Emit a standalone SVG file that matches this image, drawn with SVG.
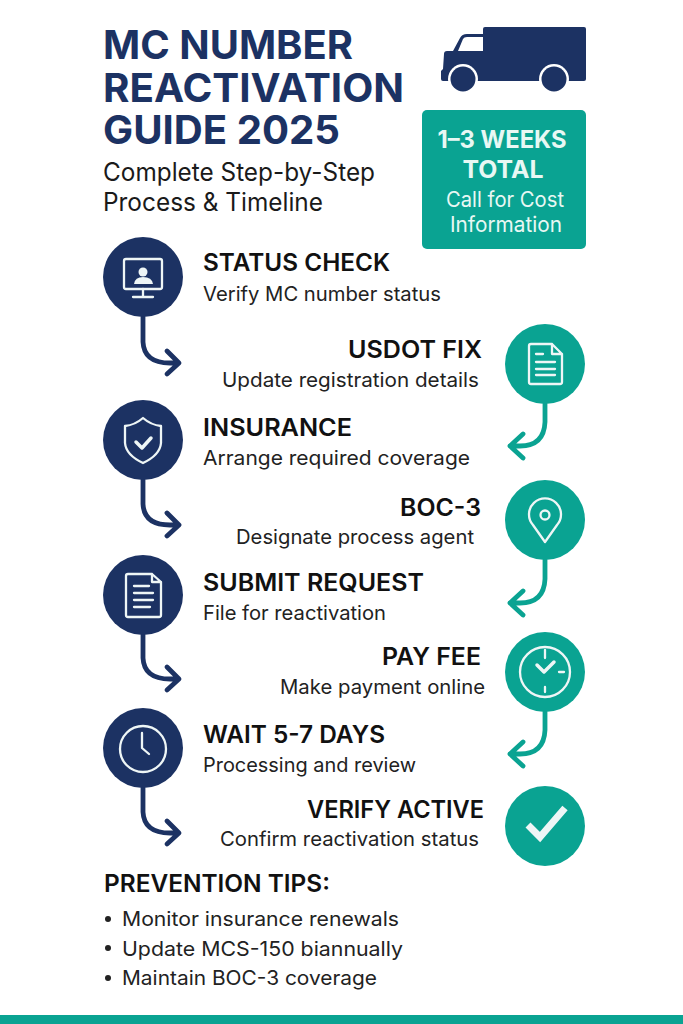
<svg xmlns="http://www.w3.org/2000/svg" width="683" height="1024" viewBox="0 0 683 1024">
<style>
text{font-family:"Inter","Liberation Sans",sans-serif}
.t{font-size:40px;font-weight:700;fill:#1c3263}
.s{font-size:25px;fill:#1a1a1a}
.h{font-size:24px;font-weight:600;fill:#111}
.d{font-size:20px;fill:#222}
.e{text-anchor:end}
.m{text-anchor:middle;fill:#e8f8f4}
.n{fill:#1c3263}.g{fill:#0aa392}
.i{fill:none;stroke:#eef6f6;stroke-width:2.300;stroke-linecap:round;stroke-linejoin:round}
.k{stroke-width:3.500}
.cn{fill:none;stroke:#1c3263;stroke-width:4.800;stroke-linecap:round;stroke-linejoin:round}
.cg{fill:none;stroke:#0aa392;stroke-width:4.800;stroke-linecap:round;stroke-linejoin:round}
</style>
<rect width="683" height="1024" fill="#fff"/>
<g id="title">
<text class="t" x="103" y="59" textLength="250" lengthAdjust="spacingAndGlyphs">MC NUMBER</text>
<text class="t" x="103" y="102" textLength="301" lengthAdjust="spacingAndGlyphs">REACTIVATION</text>
<text class="t" x="103" y="144" textLength="237" lengthAdjust="spacingAndGlyphs">GUIDE 2025</text>
<text class="s" x="103" y="181" textLength="272" lengthAdjust="spacingAndGlyphs">Complete Step-by-Step</text>
<text class="s" x="103" y="211" textLength="220" lengthAdjust="spacingAndGlyphs">Process &amp; Timeline</text>
</g>
<g id="truck">
<path class="n" d="M483 29a2 2 0 0 1 2-2H584a2 2 0 0 1 2 2V79a2 2 0 0 1-2 2H483Z"/>
<path class="n" d="M483 34H467Q462 34 460 38L453 51H447Q444 51 444 54L443 69L441 71V79Q441 81 443 81H483Z"/>
<path fill="#fff" d="M458 51L463 39Q464 37 467 37H483V51Z"/>
<circle cx="463" cy="79" r="15" fill="#fff"/><circle cx="554" cy="79" r="15" fill="#fff"/>
<circle class="n" cx="463" cy="79" r="12.500"/><circle class="n" cx="554" cy="79" r="12.500"/>
</g>
<g id="summary">
<rect class="g" x="422" y="110" width="164" height="139" rx="5"/>
<text class="m" x="502" y="148" font-size="24" font-weight="700" textLength="129" lengthAdjust="spacingAndGlyphs">1–3 WEEKS</text>
<text class="m" x="503" y="178" font-size="24" font-weight="700" textLength="81" lengthAdjust="spacingAndGlyphs">TOTAL</text>
<text class="m" x="505" y="207" font-size="21" textLength="118" lengthAdjust="spacingAndGlyphs">Call for Cost</text>
<text class="m" x="506" y="232" font-size="21" textLength="112" lengthAdjust="spacingAndGlyphs">Information</text>
</g>
<g id="connectors">
<path class="cn" d="M143 317V342Q144 363 170 363H178M167 351L179 363L167 374"/>
<path class="cn" d="M143 480V504Q144 525 170 525H178M167 513L179 525L167 536"/>
<path class="cn" d="M143 635V658Q144 679 170 679H178M167 667L179 679L167 690"/>
<path class="cn" d="M143 788V812Q144 833 170 833H178M167 821L179 833L167 844"/>
<path class="cg" d="M545 404V422Q544 446 520 446H510M523 434L510 446L523 458"/>
<path class="cg" d="M545 560V579Q544 603 520 603H510M523 591L510 603L523 615"/>
<path class="cg" d="M545 712V730Q544 754 520 754H510M523 742L510 754L523 766"/>
</g>
<g id="node-status-check">
<circle class="n" cx="143" cy="277" r="40"/>
<rect class="i" x="124" y="259" width="38" height="30" rx="2"/>
<circle cx="143" cy="272" r="4.500" fill="#eef6f6"/><path fill="#eef6f6" d="M134 284Q135 277 143 277Q152 277 153 284Z"/>
<path class="i" d="M143 289V296M133 297H153"/>
<text class="h" x="203" y="271" textLength="187" lengthAdjust="spacingAndGlyphs">STATUS CHECK</text>
<text class="d" x="203" y="301" textLength="238" lengthAdjust="spacingAndGlyphs">Verify MC number status</text>
</g>
<g id="node-usdot-fix">
<circle class="g" cx="545" cy="364" r="40"/>
<path class="i" d="M529 346a2 2 0 0 1 2-2H552L562 354V382a2 2 0 0 1-2 2H531a2 2 0 0 1-2-2ZM552 344V354H562"/>
<path class="i" d="M536 354H543M536 362H555M536 369H555M536 375H555"/>
<text class="h e" x="482" y="358" textLength="134" lengthAdjust="spacingAndGlyphs">USDOT FIX</text>
<text class="d e" x="479" y="387" textLength="257" lengthAdjust="spacingAndGlyphs">Update registration details</text>
</g>
<g id="node-insurance">
<circle class="n" cx="143" cy="440" r="40"/>
<path class="i" d="M143 418Q135 425 125 426V443Q126 455 143 463Q160 455 161 443V426Q151 425 143 418Z"/>
<path class="i k" d="M136 442L142 448L151 438"/>
<text class="h" x="203" y="436" textLength="149" lengthAdjust="spacingAndGlyphs">INSURANCE</text>
<text class="d" x="203" y="465" textLength="267" lengthAdjust="spacingAndGlyphs">Arrange required coverage</text>
</g>
<g id="node-boc-3">
<circle class="g" cx="545" cy="520" r="40"/>
<path class="i" d="M545 542L533 525A16 16 0 1 1 557 525Z"/>
<circle class="i" cx="545" cy="515" r="4.500"/>
<text class="h e" x="481" y="516" textLength="81" lengthAdjust="spacingAndGlyphs">BOC-3</text>
<text class="d e" x="474" y="544" textLength="238" lengthAdjust="spacingAndGlyphs">Designate process agent</text>
</g>
<g id="node-submit-request">
<circle class="n" cx="143" cy="595" r="40"/>
<path class="i" d="M126 576a2 2 0 0 1 2-2H152L161 582V615a2 2 0 0 1-2 2H128a2 2 0 0 1-2-2ZM152 574V582H161"/>
<path class="i" d="M134 586H149M134 593H153M134 600H153M134 607H150"/>
<text class="h" x="203" y="591" textLength="221" lengthAdjust="spacingAndGlyphs">SUBMIT REQUEST</text>
<text class="d" x="203" y="620" textLength="183" lengthAdjust="spacingAndGlyphs">File for reactivation</text>
</g>
<g id="node-pay-fee">
<circle class="g" cx="545" cy="672" r="40"/>
<circle class="i" cx="545" cy="672" r="25"/>
<path class="i" d="M545 650V658M545 687V692M559 672H564"/>
<path class="i k" d="M537 665L544 672L554 662"/>
<text class="h e" x="481" y="665" textLength="99" lengthAdjust="spacingAndGlyphs">PAY FEE</text>
<text class="d e" x="485" y="694" textLength="205" lengthAdjust="spacingAndGlyphs">Make payment online</text>
</g>
<g id="node-wait">
<circle class="n" cx="143" cy="748" r="40"/>
<circle class="i" cx="143" cy="749" r="23"/>
<path class="i" d="M142 733V748L149 754"/>
<text class="h" x="203" y="743" textLength="182" lengthAdjust="spacingAndGlyphs">WAIT 5-7 DAYS</text>
<text class="d" x="203" y="772" textLength="213" lengthAdjust="spacingAndGlyphs">Processing and review</text>
</g>
<g id="node-verify-active">
<circle class="g" cx="545" cy="826" r="40"/>
<path fill="none" stroke="#eef6f6" stroke-width="7" d="M528 825L540 837L565 808"/>
<text class="h e" x="484" y="818" textLength="177" lengthAdjust="spacingAndGlyphs">VERIFY ACTIVE</text>
<text class="d e" x="479" y="846" textLength="259" lengthAdjust="spacingAndGlyphs">Confirm reactivation status</text>
</g>
<g id="prevention">
<text class="h" x="104" y="892" textLength="226" lengthAdjust="spacingAndGlyphs">PREVENTION TIPS:</text>
<circle cx="108" cy="919" r="3" fill="#222"/><circle cx="108" cy="948" r="3" fill="#222"/><circle cx="108" cy="978" r="3" fill="#222"/>
<text class="d" x="122" y="926" textLength="277" lengthAdjust="spacingAndGlyphs">Monitor insurance renewals</text>
<text class="d" x="122" y="956" textLength="281" lengthAdjust="spacingAndGlyphs">Update MCS-150 biannually</text>
<text class="d" x="122" y="985" textLength="255" lengthAdjust="spacingAndGlyphs">Maintain BOC-3 coverage</text>
</g>
<rect id="footer-bar" class="g" x="0" y="1015" width="683" height="9"/>
</svg>
